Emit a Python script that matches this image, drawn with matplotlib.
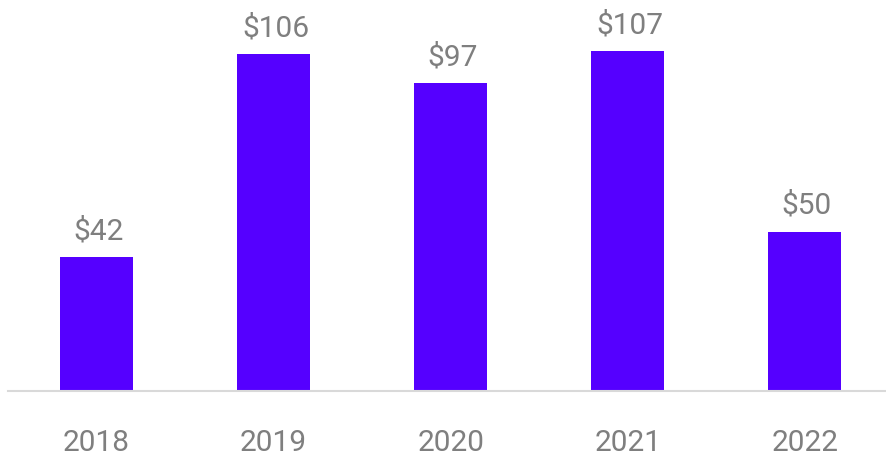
import matplotlib
matplotlib.use("Agg")
import matplotlib.pyplot as plt

years = ["2018", "2019", "2020", "2021", "2022"]
values = [42, 106, 97, 107, 50]

BAR_COLOR = "#5500FF"
TEXT_COLOR = "#7F7F7F"
AXIS_COLOR = "#D9D9D9"

plt.rcParams["font.family"] = ["Roboto", "DejaVu Sans"]

W, H, DPI = 886, 456, 100
fig = plt.figure(figsize=(W / DPI, H / DPI), dpi=DPI)

base_px = 391.5
ax = fig.add_axes([8 / W, (H - base_px) / H, (W - 8) / W, base_px / H])

x = list(range(len(years)))
ax.bar(x, values, width=0.412, color=BAR_COLOR, zorder=2)

ax.set_xlim(-0.5, 4.458)
ax.set_ylim(0, 123.5)

for s in ["top", "right", "left"]:
    ax.spines[s].set_visible(False)
ax.spines["bottom"].set_color(AXIS_COLOR)
ax.spines["bottom"].set_linewidth(1.5)
ax.set_yticks([])
ax.set_xticks([])

pt = 72 / DPI
for xi, v, yr in zip(x, values, years):
    ax.annotate(f"${v}", (xi, v), xytext=(2 * pt, 19 * pt), textcoords="offset points",
                ha="center", va="baseline", fontsize=21.5, color=TEXT_COLOR,
                annotation_clip=False)
    ax.annotate(yr, (xi, 0), xytext=(0, -59.5 * pt), textcoords="offset points",
                ha="center", va="baseline", fontsize=21.5, color=TEXT_COLOR,
                annotation_clip=False)

fig.savefig("out.png", dpi=DPI)
